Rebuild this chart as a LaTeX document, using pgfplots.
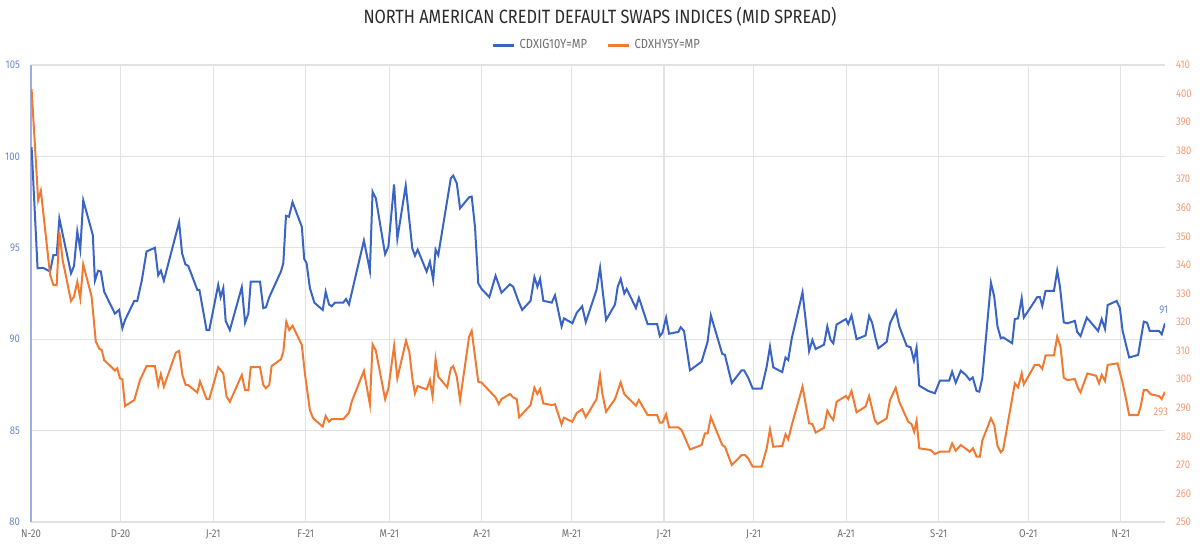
\documentclass[border=0pt]{standalone}
\usepackage{fontspec}
\setmainfont{Fira Sans}[FakeStretch=0.85]
\usepackage{pgfplots}
\pgfplotsset{compat=1.18}
\usepackage{pgfplotstable}
\definecolor{blueline}{HTML}{3A64C4}
\definecolor{orangeline}{HTML}{F07A32}
\definecolor{bluetick}{HTML}{6B86CF}
\definecolor{orangetick}{HTML}{F29A72}
\definecolor{gridc}{HTML}{E2E2E2}
\definecolor{axisblue}{HTML}{9AAEE0}
\definecolor{xlab}{HTML}{6E6E6E}
\definecolor{titlec}{HTML}{2A2A2A}

\pgfplotstableread{
d v
0.2 100.5
2.2 93.88
4.1 93.9
6.4 93.7
7.5 94.6
8.6 94.6
9.5 96.6
10.8 95.6
13.4 93.6
14.4 94.0
15.5 95.9
16.5 94.9
17.5 97.6
20.7 95.7
21.4 93.2
22.5 93.75
23.4 93.7
24.5 92.6
28.1 91.4
29.5 91.6
30.6 90.6
31.5 91.05
34.6 92.1
35.6 92.1
37.1 93.2
38.7 94.8
41.5 95.0
42.6 93.5
43.5 93.75
44.5 93.2
49.6 96.4
50.6 94.7
51.7 94.1
52.7 94.0
55.7 92.7
56.4 92.7
58.8 90.5
59.7 90.5
62.7 92.97
63.5 92.3
64.4 92.8
65.2 91.0
66.6 90.5
70.6 92.85
71.7 90.9
72.8 91.4
73.6 93.15
76.7 93.15
77.8 91.7
78.7 91.75
79.8 92.3
83.7 93.7
84.5 94.15
85.4 96.75
86.4 96.7
87.6 97.5
90.7 96.15
91.5 94.4
92.3 94.15
93.4 92.8
94.9 92.0
97.7 91.6
98.7 92.6
99.8 91.9
100.7 91.8
101.8 92.0
104.6 92.0
105.5 92.2
106.5 91.9
108.5 93.3
111.5 95.4
113.5 93.75
114.4 98.07
115.5 97.7
118.6 94.65
119.7 95.06
121.6 98.47
122.7 95.5
125.5 98.4
127.7 94.97
128.6 94.57
129.5 94.9
132.5 93.7
133.6 94.24
134.7 93.24
135.5 94.9
136.4 94.6
140.6 98.8
141.4 98.95
142.6 98.53
143.7 97.16
146.7 97.76
147.6 97.8
148.7 96.15
149.8 93.06
150.9 92.75
153.5 92.3
155.6 93.47
157.6 92.54
160.4 93.0
161.5 92.87
163.2 92.1
164.5 91.6
167.3 92.1
168.6 93.4
169.6 92.87
170.5 93.3
171.6 92.1
174.4 92.0
175.5 92.4
177.7 90.7
178.5 91.14
181.3 90.87
182.8 91.45
184.6 91.8
185.8 90.93
189.4 92.7
190.6 93.9
191.4 92.73
192.6 91.05
195.6 91.9
196.5 92.87
197.5 93.3
198.7 92.5
199.5 92.75
202.6 91.7
203.6 92.27
206.5 90.83
209.7 90.83
210.6 90.17
211.5 90.36
212.7 91.18
213.7 90.3
216.8 90.4
217.6 90.65
218.7 90.45
220.7 88.3
224.6 88.77
226.6 89.86
227.7 91.3
231.5 89.2
232.4 89.14
234.7 87.6
238.0 88.3
238.8 88.3
240.2 87.9
241.7 87.3
244.7 87.3
246.4 88.5
247.5 89.6
248.6 88.46
251.6 88.2
252.7 89.0
253.6 88.86
254.8 90.05
258.4 92.57
260.6 89.35
261.7 89.96
262.8 89.46
265.6 89.7
266.7 90.7
267.8 89.96
268.7 89.78
269.8 90.8
272.9 91.1
273.7 90.83
274.8 91.3
276.5 90.0
279.5 90.2
280.7 91.27
281.7 90.9
283.0 89.96
283.8 89.5
286.6 89.86
287.7 90.87
289.7 91.54
290.8 90.7
293.3 89.63
294.6 89.56
295.7 88.83
296.6 89.54
297.5 87.46
300.5 87.17
302.7 87.04
304.4 87.73
307.5 87.73
308.5 88.22
309.7 87.62
311.4 88.28
313.1 88.04
314.4 87.77
315.4 87.91
316.7 87.17
317.6 87.13
318.6 87.86
321.5 93.09
322.6 92.33
323.7 90.7
324.8 90.05
325.6 90.1
328.6 89.78
329.5 91.1
330.6 91.14
331.8 92.24
332.5 91.18
335.1 91.82
337.0 92.3
337.9 92.3
338.7 91.82
339.8 92.64
342.6 92.64
343.7 93.75
344.6 92.9
345.9 90.92
347.1 90.87
349.6 91.0
350.4 90.4
351.5 90.17
353.6 91.18
357.4 90.45
358.6 91.1
359.7 90.56
360.6 91.87
363.6 92.09
364.7 91.7
365.6 90.45
367.8 89.0
370.8 89.14
372.7 90.96
373.8 90.9
374.7 90.45
377.8 90.45
378.7 90.27
379.8 90.87
}\ig

\pgfplotstableread{
d v
0.2 401.5
2.4 362.7
3.3 366.0
6.4 336.5
7.5 333.0
8.6 332.9
9.5 351.6
10.6 341.7
13.4 327.4
14.4 328.9
15.5 334.1
16.5 328.3
17.5 340.2
20.3 328.9
21.7 313.2
22.9 310.6
23.7 310.2
24.5 306.7
27.0 304.2
28.1 303.0
28.9 303.8
29.8 300.3
30.6 299.95
31.5 290.6
34.6 292.7
36.5 299.7
38.7 304.6
41.5 304.6
42.6 297.95
43.5 301.8
44.5 297.4
48.5 309.3
49.6 309.9
50.7 301.5
51.8 298.0
52.7 297.9
55.7 295.3
56.6 299.2
58.8 293.05
59.7 293.05
62.7 304.2
64.4 302.0
65.5 293.9
66.6 292.1
70.6 301.5
71.7 296.2
72.8 296.1
73.6 304.2
76.7 304.2
77.8 298.0
78.7 296.8
79.8 298.0
80.6 304.6
83.7 306.96
84.5 309.6
85.5 320.1
86.5 317.2
87.6 318.7
90.7 312.0
91.8 301.5
93.4 289.2
94.5 286.3
97.7 283.4
98.7 287.1
99.8 285.1
100.7 286.0
104.6 286.0
106.5 288.3
107.4 292.1
111.5 302.9
113.5 291.2
114.4 312.2
115.5 310.0
118.6 293.0
119.7 296.8
121.6 311.7
122.7 300.3
125.6 313.5
126.7 309.6
127.8 299.7
128.6 295.0
129.5 297.6
132.5 296.4
133.6 299.7
134.5 293.9
135.5 306.96
136.4 300.9
139.4 297.15
140.6 303.8
141.4 304.6
142.6 300.9
143.7 292.7
146.7 314.7
147.6 316.9
149.8 299.1
150.9 298.8
155.6 293.6
156.7 291.3
157.6 293.05
160.4 294.8
161.5 293.6
162.7 293.0
163.5 286.7
167.3 290.95
168.6 297.0
169.6 294.8
170.5 296.55
171.6 291.5
174.4 290.95
175.5 291.2
177.7 284.2
178.5 286.5
181.3 285.1
182.8 288.2
184.6 289.45
185.8 286.7
189.4 293.0
190.6 301.2
191.4 294.7
192.6 288.6
195.6 293.05
197.5 298.9
198.7 294.8
202.6 290.7
203.6 292.7
206.5 287.45
209.7 287.45
210.6 284.8
211.5 284.8
212.7 287.7
213.7 283.1
216.8 283.1
217.9 282.2
220.7 275.4
224.6 276.95
225.7 281.0
226.6 281.0
227.7 286.7
231.5 276.95
232.4 276.35
234.7 269.95
238.0 273.45
239.1 273.45
240.2 272.3
241.7 269.35
244.7 269.35
246.4 275.8
247.5 282.4
248.6 276.35
251.6 276.6
252.7 280.7
253.6 278.95
254.8 283.95
258.4 297.4
260.6 284.55
261.7 284.3
262.8 281.3
265.6 283.0
266.7 289.0
267.8 286.9
268.7 285.7
269.8 292.1
272.9 294.1
273.7 293.05
274.8 295.85
276.5 288.4
279.5 290.4
280.7 294.1
282.6 285.7
283.5 284.3
286.6 286.3
287.7 292.7
289.6 297.0
290.8 292.1
293.8 285.1
294.9 284.3
295.8 281.6
296.6 285.45
297.5 275.8
301.3 275.2
302.7 273.8
304.4 274.6
307.5 274.6
308.5 277.55
309.7 274.95
311.4 276.95
314.4 274.6
315.5 275.8
316.7 272.85
317.8 272.85
318.6 278.5
321.5 286.3
322.6 283.95
323.7 276.6
324.8 274.4
325.6 275.4
329.5 298.55
330.6 297.15
331.8 302.0
332.5 298.2
336.2 305.0
337.6 305.0
338.7 303.6
339.8 308.3
342.6 308.3
343.7 314.9
344.8 311.4
345.9 300.5
347.1 299.7
349.6 300.05
350.7 296.8
351.5 295.4
353.8 302.0
356.7 301.2
357.7 298.55
358.6 301.5
359.7 299.4
360.6 305.0
363.9 305.55
365.5 299.1
366.7 293.3
367.8 287.45
370.8 287.45
371.7 290.7
372.7 296.2
373.8 296.2
375.0 294.7
377.8 294.1
378.7 293.05
379.8 295.6
}\hy

\begin{document}
\begin{tikzpicture}
\pgfplotsset{
  common/.style={
    scale only axis, width=567pt, height=228.5pt,
    at={(15.5pt,11.5pt)}, anchor=south west,
    xmin=0, xmax=379.8,
    major tick length=0pt,
    clip mode=individual,
    /pgf/number format/assume math mode=true,
    tick label style={font=\fontsize{5.6}{6}\selectfont},
  }
}
\begin{axis}[common,
  ymin=80, ymax=105, ytick={80,85,90,95,100,105},
  xtick={0,30,61,92,120,151,181,212,242,273,304,334,365},
  xticklabels={N-20,D-20,J-21,F-21,M-21,A-21,M-21,J-21,J-21,A-21,S-21,O-21,N-21},
  xticklabel style={text=xlab, yshift=-0.5pt},
  yticklabel style={text=bluetick, xshift=-2pt},
  grid=major, grid style={gridc, line width=0.6pt},
  axis line style={draw=none},
  legend columns=2,
  legend style={draw=none, fill=none, at={(axis description cs:0.5,1.043)}, anchor=center,
    font=\fontsize{6.6}{7}\selectfont, text=xlab,
    /tikz/every even column/.append style={column sep=8pt}},
  legend image code/.code={\draw[#1, line width=1.3pt] (0pt,0pt) -- (10.5pt,0pt);},
]
\draw[axisblue, line width=0.8pt] (rel axis cs:0,0) -- (rel axis cs:0,1);
\addplot[blueline, line width=1pt] table[x=d, y=v] {\ig};
\addlegendentry{CDXIG10Y=MP}
\addlegendimage{orangeline}
\addlegendentry{CDXHY5Y=MP}
\node[text=bluetick, font=\fontsize{5.6}{6}\selectfont] at (axis cs:379.4,91.6) {91};
\end{axis}
\begin{axis}[common,
  ymin=250, ymax=410, ytick={250,260,...,410},
  axis y line*=right, axis x line=none,
  y axis line style={draw=none},
  yticklabel style={text=orangetick, xshift=2pt},
]
\addplot[orangeline, line width=1pt] table[x=d, y=v] {\hy};
\node[text=orangetick, font=\fontsize{5.6}{6}\selectfont] at (axis cs:378.4,288.5) {293};
\end{axis}
\node[text=titlec, font=\fontsize{9.6}{11}\selectfont] at (300pt,264pt) {NORTH AMERICAN CREDIT DEFAULT SWAPS INDICES (MID SPREAD)};
\pgfresetboundingbox
\path (0,0) rectangle (600pt,272.5pt);
\end{tikzpicture}
\end{document}
